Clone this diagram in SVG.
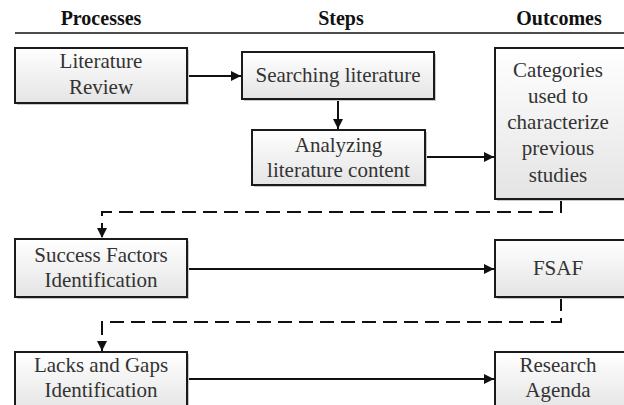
<svg xmlns="http://www.w3.org/2000/svg" width="624" height="405" viewBox="0 0 624 405">
<style>
.hd{font-family:"Liberation Serif","Times New Roman",serif;font-weight:bold;font-size:20px;fill:#111;text-anchor:middle}
.t{font-family:"Liberation Serif","Times New Roman",serif;font-size:21px;fill:#333;text-anchor:middle}
.box{fill:url(#g);stroke:#1a1a1a;stroke-width:2}
.sh{fill:#c8c8c8}
.ln{fill:none;stroke:#111;stroke-width:2}
.dl{fill:none;stroke:#111;stroke-width:2;stroke-dasharray:14 7}
</style>
<defs>
<linearGradient id="g" x1="0" y1="0" x2="0" y2="1">
<stop offset="0" stop-color="#ffffff"/>
<stop offset="1" stop-color="#e4e4e4"/>
</linearGradient>
<marker id="a" markerWidth="10" markerHeight="10" refX="10" refY="5" orient="auto" markerUnits="userSpaceOnUse">
<path d="M0,0 L10,5 L0,10 Z" fill="#111"/>
</marker>
</defs>
<g id="header">
<text class="hd" x="101" y="25">Processes</text>
<text class="hd" x="341" y="25">Steps</text>
<text class="hd" x="559" y="25">Outcomes</text>
<line x1="15" y1="33" x2="624" y2="33" stroke="#111" stroke-width="1.5"/>
</g>
<g id="connectors">
<path class="ln" d="M187,76 H241" marker-end="url(#a)"/>
<path class="ln" d="M338,99 V129" marker-end="url(#a)"/>
<path class="ln" d="M425,157 H494" marker-end="url(#a)"/>
<path class="dl" d="M561,199 V212 H102 V238" marker-end="url(#a)"/>
<path class="ln" d="M187,269 H494" marker-end="url(#a)"/>
<path class="dl" d="M561,297 V322 H102 V351" marker-end="url(#a)"/>
<path class="ln" d="M187,379 H494" marker-end="url(#a)"/>
</g>
<g id="literature-review">
<rect class="sh" x="17" y="50" width="172" height="55"/>
<rect class="box" x="15" y="48" width="172" height="55"/>
<text class="t" x="101" y="68">Literature</text>
<text class="t" x="101" y="94">Review</text>
</g>
<g id="searching-literature">
<rect class="sh" x="244" y="54" width="192" height="47"/>
<rect class="box" x="242" y="52" width="192" height="47"/>
<text class="t" x="338" y="82">Searching literature</text>
</g>
<g id="analyzing-literature">
<rect class="sh" x="254" y="132" width="173" height="55"/>
<rect class="box" x="252" y="130" width="173" height="55"/>
<text class="t" x="338.5" y="152">Analyzing</text>
<text class="t" x="338.5" y="177">literature content</text>
</g>
<g id="categories">
<rect class="sh" x="497" y="50" width="140" height="151"/>
<rect class="box" x="495" y="48" width="140" height="151"/>
<text class="t" x="558" y="77">Categories</text>
<text class="t" x="558" y="103">used to</text>
<text class="t" x="558" y="129">characterize</text>
<text class="t" x="558" y="155">previous</text>
<text class="t" x="558" y="182">studies</text>
</g>
<g id="success-factors">
<rect class="sh" x="17" y="241" width="172" height="58"/>
<rect class="box" x="15" y="239" width="172" height="58"/>
<text class="t" x="101" y="262">Success Factors</text>
<text class="t" x="101" y="287">Identification</text>
</g>
<g id="fsaf">
<rect class="sh" x="497" y="242" width="140" height="57"/>
<rect class="box" x="495" y="240" width="140" height="57"/>
<text class="t" x="558" y="275">FSAF</text>
</g>
<g id="lacks-gaps">
<rect class="sh" x="17" y="354" width="172" height="60"/>
<rect class="box" x="15" y="352" width="172" height="60"/>
<text class="t" x="101" y="372">Lacks and Gaps</text>
<text class="t" x="101" y="397">Identification</text>
</g>
<g id="research-agenda">
<rect class="sh" x="497" y="354" width="140" height="60"/>
<rect class="box" x="495" y="352" width="140" height="60"/>
<text class="t" x="558" y="372">Research</text>
<text class="t" x="558" y="397">Agenda</text>
</g>
</svg>
